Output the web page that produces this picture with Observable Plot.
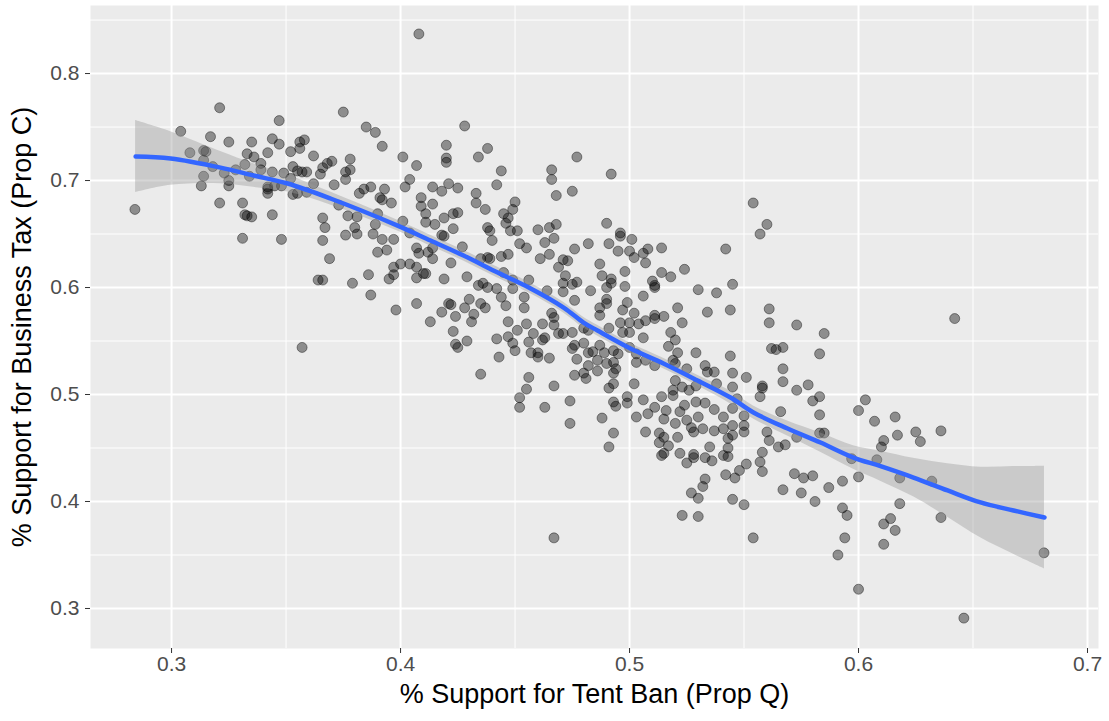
<!DOCTYPE html>
<html><head><meta charset="utf-8">
<script src="https://cdn.jsdelivr.net/npm/d3@7"></script>
<script src="https://cdn.jsdelivr.net/npm/@observablehq/plot@0.6"></script>
<style>body{margin:0;background:#fff;} #chart svg{display:block;}</style>
</head><body><div id="chart"></div>
<script>
// % Support for Tent Ban (Prop Q)
const propQ = [
.321,.347,.304,.317,.325,.335,.344,.347,.358,.356,
.356,.352,.362,.308,.314,.315,.333,.336,.342,.314,
.332,.339,.339,.344,.349,.353,.355,.357,.359,.318,
.323,.314,.328,.334,.325,.325,.313,.342,.342,.342,
.345,.348,.352,.353,.355,.359,.362,.321,.331,.332,
.333,.335,.344,.284,.331,.348,
.375,.385,.389,.392,.428,.420,.420,.420,.434,.438,
.444,.442,.401,.407,.404,.402,.414,.421,.418,.425,
.433,.433,.437,.450,.368,.370,.378,.378,.376,.376,
.366,.365,.371,.382,.384,.387,.393,.391,.392,.396,
.409,.409,.414,.411,.373,.377,.381,.390,.389,.380,
.376,.381,.388,.392,.397,.366,.367,.366,.401,.404,
.411,.415,.419,.423,.425,.423,.418,.419,.427,.407,
.408,.412,.414,.390,.394,.369,.435,.438,.444,.447,
.438,.439,.440,.445,.449,.447,.446,.448,.451,.452,
.364,.357,
.386,.379,.366,.387,.398,.395,.397,.397,.400,.404,
.407,.407,.410,.411,.414,.419,.422,.429,.434,.436,
.438,.439,.445,.442,.444,.449,.449,.407,.413,.418,
.421,.422,.424,.428,.430,.432,.431,.435,.437,.446,
.447,.423,.424,.425,.429,.442,.447,.451,.449,.450,
.443,.435,.452,.452,
.477,.466,.466,.492,.468,.475,.490,.496,.496,.501,
.460,.465,.468,.467,.463,.455,.476,.482,.491,.495,
.500,.502,.506,.508,.514,.507,.461,.465,.471,.473,
.469,.487,.472,.488,.498,.514,.518,.524,.510,.511,
.511,.492,.492,.490,.498,.506,.483,.477,.475,.471,
.471,.464,.456,.454,.476,.490,.490,.487,.487,.499,
.497,.502,.500,.504,.507,.511,.511,.515,.521,.523,
.530,.538,.534,.454,.466,.467,.462,.455,
.458,.467,.463,.462,.469,.471,.475,.480,.482,.456,
.457,.460,.460,.465,.475,.476,.477,.480,.482,.484,
.487,.491,.489,.493,.495,.486,.490,.482,.486,.493,
.494,.493,.480,.476,.481,.496,.497,.500,.506,.500,
.503,.503,.507,.511,.518,.520,.517,.521,.519,.520,
.525,.529,.533,.534,.537,.520,.523,.526,.529,.538,
.456,.455,.467,.463,.474,.474,.488,.491,.493,.502,
.499,.499,.493,.494,.493,.491,.503,.506,.508,.511,
.507,.514,.516,.515,.519,.519,.522,.520,.521,.524,
.525,.527,.528,.530,.532,.537,.533,.537,.529,.513,
.515,.517,.513,.514,.515,.522,.525,.528,.528,.533,
.536,.535,.533,.532,.527,.530,.523,.530,.467,
.554,.560,.557,.542,.545,.544,.561,.561,.573,.585,
.562,.564,.567,.583,.544,.567,.545,.551,
.567,.558,.558,.557,.573,.578,.583,.580,.545,.547,
.545,.550,.541,.545,.550,.550,.545,.543,.541,.543,
.541,.543,.566,.583,.560,.561,.568,.565,.573,.583,
.585,.558,.557,.558,.551,.548,.542,.546,.572,.576,
.580,.567,.575,.581,.587,.593,.545,.550,.554,.593,
.595,.594,.591,.603,.600,.607,.616,.611,.610,.617,
.608,.597,.600,.618,.614,.611,.616,.618,.611,
.642,.625,.627,.636,.632,.636,.681,.646,.600,.408
];
// % Support for Business Tax (Prop C)
const propC = [
.768,.756,.746,.741,.736,.736,.739,.734,.738,.736,
.730,.727,.723,.726,.728,.727,.725,.722,.726,.719,
.715,.716,.710,.708,.707,.713,.709,.708,.708,.713,
.707,.704,.710,.704,.700,.695,.695,.694,.692,.688,
.695,.695,.702,.687,.688,.689,.697,.679,.679,.668,
.667,.666,.668,.673,.646,.645,
.764,.750,.745,.732,.751,.733,.721,.717,.722,.730,
.709,.696,.722,.714,.701,.694,.694,.697,.690,.693,
.688,.679,.673,.680,.716,.718,.720,.710,.708,.701,
.712,.706,.696,.688,.692,.694,.692,.684,.682,.679,
.684,.676,.678,.669,.677,.667,.666,.669,.659,.656,
.649,.650,.650,.645,.645,.665,.656,.644,.662,.651,
.661,.659,.665,.669,.670,.655,.649,.648,.638,.637,
.632,.633,.637,.633,.635,.627,.627,.628,.629,.631,
.656,.653,.644,.669,.673,.665,.660,.653,.653,.641,
.607,.544,
.612,.604,.607,.593,.579,.608,.612,.619,.622,.622,
.619,.609,.613,.613,.627,.608,.623,.610,.602,.604,
.600,.627,.614,.599,.591,.607,.599,.585,.568,.577,
.585,.584,.573,.581,.589,.575,.568,.585,.581,.583,
.568,.559,.547,.544,.550,.552,.554,.560,.548,.541,
.535,.519,.497,.488,
.722,.710,.701,.706,.686,.690,.660,.651,.648,.645,
.654,.656,.659,.646,.642,.637,.636,.641,.641,.634,
.634,.628,.632,.636,.637,.623,.627,.631,.626,.625,
.619,.622,.611,.611,.615,.614,.610,.617,.606,.602,
.600,.608,.604,.600,.601,.592,.597,.605,.603,.604,
.596,.597,.607,.591,.588,.589,.585,.581,.574,.586,
.579,.576,.567,.566,.569,.571,.574,.573,.581,.567,
.598,.595,.577,.581,.576,.572,.566,.566,
.557,.565,.553,.551,.557,.557,.558,.562,.560,.549,
.539,.535,.539,.534,.543,.546,.533,.548,.539,.540,
.546,.562,.539,.541,.538,.532,.529,.527,.522,.530,
.524,.520,.520,.518,.515,.567,.558,.558,.553,.544,
.538,.530,.532,.527,.558,.551,.545,.539,.532,.529,
.524,.539,.527,.521,.521,.513,.507,.504,.508,.510,
.516,.505,.508,.488,.494,.473,.478,.506,.510,.510,
.498,.492,.493,.489,.464,.451,.479,.495,.482,.488,
.465,.498,.485,.477,.504,.499,.484,.473,.460,.490,
.476,.469,.465,.479,.468,.466,.492,.486,.493,.464,
.460,.452,.455,.443,.445,.445,.436,.441,.444,.441,
.438,.451,.421,.414,.408,.403,.387,.386,.366,
.679,.659,.650,.636,.603,.579,.580,.567,.565,.557,
.543,.542,.544,.538,.536,.524,.520,.516,
.512,.508,.506,.498,.504,.509,.498,.494,.507,.496,
.487,.480,.479,.471,.471,.465,.462,.459,.468,.450,
.443,.442,.484,.481,.465,.457,.453,.451,.460,.464,
.464,.446,.437,.428,.435,.429,.425,.422,.426,.422,
.424,.411,.408,.400,.413,.419,.402,.397,.366,.394,
.387,.366,.350,.495,.485,.475,.479,.457,.451,.462,
.439,.440,.423,.422,.384,.379,.373,.398,.360,
.571,.465,.456,.466,.419,.385,.352,.291,.318,.837
];
// loess smooth
const fitX  = [.2843,.2996,.3214,.3358,.3507,.3694,.3987,.4131,.4275,.4424,.4568,.4712,.4799,.4860,.5004,.5148,.5297,.5441,.5541,.5690,.5834,.5978,.6096,.6240,.6389,.6533,.6677,.6812];
const fitY  = [.7224,.7206,.7121,.7047,.6972,.6832,.6579,.6439,.6299,.6140,.5991,.5813,.5673,.5598,.5430,.5290,.5131,.4972,.4832,.4682,.4551,.4411,.4330,.4224,.4103,.3991,.3916,.3850];
const fitLo = [.6888,.6956,.6971,.6937,.6892,.6772,.6529,.6389,.6249,.6090,.5941,.5763,.5623,.5548,.5380,.5240,.5081,.4912,.4772,.4612,.4461,.4301,.4190,.4044,.3853,.3661,.3506,.3370];
const fitHi = [.7560,.7456,.7271,.7157,.7052,.6892,.6629,.6489,.6349,.6190,.6041,.5863,.5723,.5648,.5480,.5340,.5181,.5032,.4892,.4752,.4641,.4521,.4470,.4404,.4353,.4321,.4326,.4330];
const xTicks = [0.3, 0.4, 0.5, 0.6, 0.7];
const yTicks = [0.3, 0.4, 0.5, 0.6, 0.7, 0.8];
const xMinor = [0.35, 0.45, 0.55, 0.65];
const yMinor = [0.35, 0.45, 0.55, 0.65, 0.75, 0.85];

const points = propQ.map((q, i) => ({q, c: propC[i]}));
const fit = fitX.map((x, i) => ({x, y: fitY[i], lo: fitLo[i], hi: fitHi[i]}));

const font = "'Liberation Sans', Arial, Helvetica, sans-serif";
const chart = Plot.plot({
  width: 1109, height: 721,
  marginLeft: 90, marginRight: 11, marginTop: 5, marginBottom: 73,
  x: {domain: [0.2646, 0.7048]},
  y: {domain: [0.2626, 0.8636]},
  style: {fontFamily: font, background: "white"},
  marks: [
    Plot.frame({fill: "#EBEBEB", stroke: null}),
    Plot.gridX(xMinor, {stroke: "white", strokeOpacity: 1, strokeWidth: 1}),
    Plot.gridY(yMinor, {stroke: "white", strokeOpacity: 1, strokeWidth: 1}),
    Plot.gridX(xTicks, {stroke: "white", strokeOpacity: 1, strokeWidth: 2}),
    Plot.gridY(yTicks, {stroke: "white", strokeOpacity: 1, strokeWidth: 2}),
    Plot.axisX({ticks: xTicks, tickFormat: d3.format(".1f"), tickSize: 5, tickPadding: 3, fontSize: 21, stroke: "#333333", fill: "#4D4D4D", label: null}),
    Plot.axisY({ticks: yTicks, tickFormat: d3.format(".1f"), tickSize: 5, tickPadding: 6, fontSize: 21, stroke: "#333333", fill: "#4D4D4D", label: null}),
    Plot.dot(points, {x: "q", y: "c", r: 5, fill: "black", fillOpacity: 0.4, stroke: "black", strokeOpacity: 0.4, strokeWidth: 1}),
    Plot.areaY(fit, {x: "x", y1: "lo", y2: "hi", fill: "#999999", fillOpacity: 0.4, curve: "catmull-rom"}),
    Plot.line(fit, {x: "x", y: "y", stroke: "#3366FF", strokeWidth: 4.5, curve: "catmull-rom"}),
    Plot.text(["% Support for Tent Ban (Prop Q)"], {frameAnchor: "bottom", dy: 46, lineAnchor: "middle", fontSize: 27, fill: "black"}),
    Plot.text(["% Support for Business Tax (Prop C)"], {frameAnchor: "left", rotate: -90, dx: -68, textAnchor: "middle", lineAnchor: "middle", fontSize: 27, fill: "black"})
  ]
});
document.getElementById("chart").appendChild(chart);
</script>
</body></html>
